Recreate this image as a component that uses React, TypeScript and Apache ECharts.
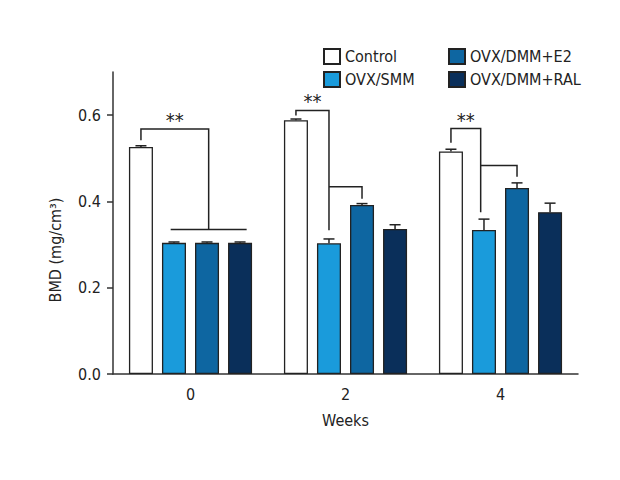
import { useEffect, useRef } from "react";
import * as echarts from "echarts";

const weeks = ["0", "2", "4"];
const groupNames = ["Control", "OVX/SMM", "OVX/DMM+E2", "OVX/DMM+RAL"];
const groupColors = ["#ffffff", "#1a9bdb", "#0e66a1", "#0a2f5a"];

const control = [0.526, 0.588, 0.516];
const controlErr = [0.003, 0.003, 0.005];
const smm = [0.304, 0.303, 0.334];
const smmErr = [0.002, 0.01, 0.025];
const e2 = [0.304, 0.392, 0.431];
const e2Err = [0.002, 0.003, 0.012];
const ral = [0.304, 0.336, 0.375];
const ralErr = [0.002, 0.01, 0.021];

const yTicks = [0, 0.2, 0.4, 0.6];

// significance brackets: week index + points as [bar slot, BMD value]
const brackets = [
  { week: 0, points: [[0, 0.542], [0, 0.568], [2.05, 0.568], [2.05, 0.335]] },
  { week: 0, points: [[0.9, 0.335], [3.2, 0.335]] },
  { week: 1, points: [[0, 0.599], [0, 0.611], [1, 0.611], [1, 0.333]] },
  { week: 1, points: [[1, 0.434], [2, 0.434], [2, 0.406]] },
  { week: 2, points: [[0, 0.536], [0, 0.569], [0.9, 0.569], [0.9, 0.375]] },
  { week: 2, points: [[0.9, 0.483], [2, 0.483], [2, 0.457]] },
];
const stars = [
  { week: 0, slot: 1.02, value: 0.568 },
  { week: 1, slot: 0.5, value: 0.611 },
  { week: 2, slot: 0.45, value: 0.569 },
];

const BAR_RATIO = 0.155;
const BAR_GAP = 0.375;
const FONT = "'Liberation Sans Narrow', 'DejaVu Sans Condensed', 'Roboto Condensed', sans-serif";
const INK = "#222";

function slotX(api: any, week: number, slot: number) {
  const band = api.size([1, 0])[0];
  const pitch = band * BAR_RATIO * (1 + BAR_GAP);
  return api.coord([week, 0])[0] + (slot - 1.5) * pitch;
}

export default function App() {
  const chartRef = useRef<HTMLDivElement>(null);

  useEffect(() => {
    if (!chartRef.current) return;
    const chart = echarts.init(chartRef.current, undefined, { renderer: "svg" });

    const values = [control, smm, e2, ral];
    const errors = [controlErr, smmErr, e2Err, ralErr];
    const errData: number[][] = [];
    values.forEach((vals, s) =>
      vals.forEach((v, w) => errData.push([w, v, errors[s][w], s]))
    );

    const barSeries = groupNames.map((name, i) => ({
      name,
      type: "bar",
      data: values[i],
      barWidth: `${BAR_RATIO * 100}%`,
      barGap: `${BAR_GAP * 100}%`,
      itemStyle: { color: groupColors[i], borderColor: INK, borderWidth: 1.3 },
    }));

    const legendBase = {
      top: 48,
      orient: "vertical",
      icon: "rect",
      padding: 0,
      itemWidth: 16,
      itemHeight: 15,
      itemGap: 6,
      selectedMode: false,
      textStyle: { fontSize: 16, color: INK, fontFamily: FONT },
    };

    chart.setOption({
      animation: false,
      textStyle: { fontFamily: FONT },
      grid: { left: 113, right: 42, top: 72, bottom: 106 },
      legend: [
        { ...legendBase, data: groupNames.slice(0, 2), left: 323 },
        { ...legendBase, data: groupNames.slice(2), left: 448 },
      ],
      xAxis: {
        type: "category",
        data: weeks,
        name: "Weeks",
        nameLocation: "middle",
        nameGap: 38,
        nameTextStyle: { fontSize: 16, color: INK, fontFamily: FONT },
        axisLine: { lineStyle: { color: "#333", width: 1.5 } },
        axisTick: { alignWithLabel: true, length: 6, lineStyle: { color: "#333", width: 1.5 } },
        axisLabel: { fontSize: 16, color: INK, margin: 12, fontFamily: FONT },
      },
      yAxis: {
        type: "value",
        min: 0,
        max: 0.7,
        splitLine: { show: false },
        axisLine: { show: true, lineStyle: { color: "#333", width: 1.5 } },
        axisTick: { show: true, length: 6, customValues: yTicks, lineStyle: { color: "#333", width: 1.5 } },
        axisLabel: {
          fontSize: 16,
          color: INK,
          margin: 12,
          fontFamily: FONT,
          customValues: yTicks,
          formatter: (v: number) => v.toFixed(1),
        },
      },
      graphic: [
        {
          type: "text",
          x: 55,
          y: 250,
          rotation: Math.PI / 2,
          style: {
            text: "BMD (mg/cm³)",
            fontSize: 16,
            fontFamily: FONT,
            fill: INK,
            align: "center",
            verticalAlign: "middle",
          },
        },
      ],
      series: [
        ...barSeries,
        {
          type: "custom",
          name: "errors",
          data: errData,
          z: 5,
          renderItem: (_params: any, api: any) => {
            const w = api.value(0);
            const v = api.value(1);
            const e = api.value(2);
            const s = api.value(3);
            const x = slotX(api, w, s);
            const yTop = api.coord([w, v + e])[1];
            const yBase = api.coord([w, v])[1];
            const style = { stroke: INK, lineWidth: 1.5 };
            return {
              type: "group",
              children: [
                { type: "line", shape: { x1: x, y1: yBase, x2: x, y2: yTop }, style },
                { type: "line", shape: { x1: x - 5.5, y1: yTop, x2: x + 5.5, y2: yTop }, style },
              ],
            };
          },
        },
        {
          type: "custom",
          name: "brackets",
          data: brackets.map((b, i) => [b.week, i]),
          z: 5,
          renderItem: (params: any, api: any) => {
            const b = brackets[params.dataIndex];
            const pts = b.points.map(([slot, v]) => [
              slotX(api, b.week, slot),
              api.coord([b.week, v])[1],
            ]);
            return {
              type: "polyline",
              shape: { points: pts },
              style: { stroke: INK, lineWidth: 1.5, fill: "none" },
            };
          },
        },
        {
          type: "custom",
          name: "stars",
          data: stars.map((s, i) => [s.week, i]),
          z: 6,
          renderItem: (params: any, api: any) => {
            const s = stars[params.dataIndex];
            return {
              type: "text",
              x: slotX(api, s.week, s.slot),
              y: api.coord([s.week, s.value])[1] + 1,
              style: {
                text: "**",
                fontSize: 20,
                fontFamily: FONT,
                fill: INK,
                align: "center",
                verticalAlign: "bottom",
              },
            };
          },
        },
      ],
    });

    return () => {
      chart.dispose();
    };
  }, []);

  return (
    <div
      ref={chartRef}
      style={{ position: "absolute", left: 0, top: 0, width: 620, height: 480, background: "#fff" }}
    />
  );
}
